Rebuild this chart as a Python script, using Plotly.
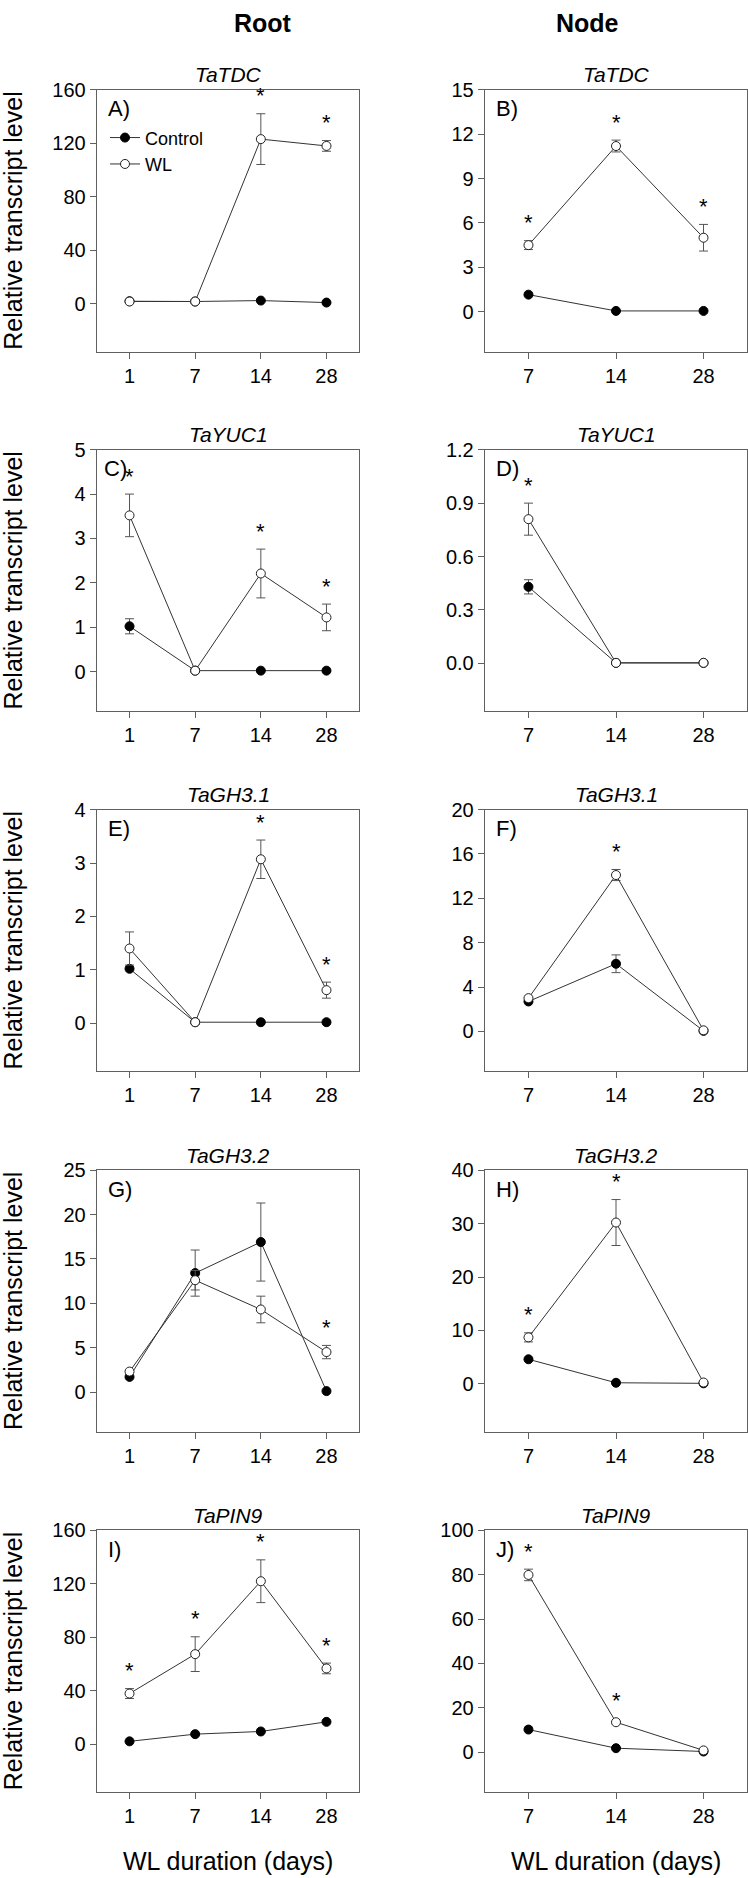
import plotly.graph_objects as go
from plotly.subplots import make_subplots

# ---------------- data ----------------
root_days = ["1", "7", "14", "28"]
node_days = ["7", "14", "28"]
genes = ["TaTDC", "TaYUC1", "TaGH3.1", "TaGH3.2", "TaPIN9"]
letters = ["A)", "B)", "C)", "D)", "E)", "F)", "G)", "H)", "I)", "J)"]

# A) TaTDC root
a_ctrl = [1.7, 1.5, 2.2, 0.7]
a_ctrl_err = [None, None, None, None]
a_wl = [1.5, 1.5, 123.1, 118.0]
a_wl_err = [None, None, 19.0, 4.0]
a_sig = [0, 0, 1, 1]
# B) TaTDC node
b_ctrl = [1.15, 0.05, 0.05]
b_ctrl_err = [None, None, None]
b_wl = [4.5, 11.2, 5.0]
b_wl_err = [0.3, 0.4, 0.9]
b_sig = [1, 1, 1]
# C) TaYUC1 root
c_ctrl = [1.02, 0.02, 0.02, 0.02]
c_ctrl_err = [0.17, None, None, None]
c_wl = [3.52, 0.02, 2.21, 1.22]
c_wl_err = [0.48, None, 0.55, 0.3]
c_sig = [1, 0, 1, 1]
# D) TaYUC1 node
d_ctrl = [0.43, 0.003, 0.003]
d_ctrl_err = [0.04, None, None]
d_wl = [0.81, 0.003, 0.003]
d_wl_err = [0.09, None, None]
d_sig = [1, 0, 0]
# E) TaGH3.1 root
e_ctrl = [1.02, 0.02, 0.02, 0.02]
e_ctrl_err = [None, None, None, None]
e_wl = [1.40, 0.02, 3.07, 0.62]
e_wl_err = [0.31, None, 0.36, 0.15]
e_sig = [0, 0, 1, 1]
# F) TaGH3.1 node
f_ctrl = [2.7, 6.1, 0.05]
f_ctrl_err = [None, 0.8, None]
f_wl = [3.0, 14.1, 0.1]
f_wl_err = [None, 0.5, None]
f_sig = [0, 1, 0]
# G) TaGH3.2 root
g_ctrl = [1.7, 13.4, 16.9, 0.1]
g_ctrl_err = [None, 2.6, 4.4, None]
g_wl = [2.3, 12.6, 9.3, 4.5]
g_wl_err = [None, 1.1, 1.5, 0.75]
g_sig = [0, 0, 0, 1]
# H) TaGH3.2 node
h_ctrl = [4.6, 0.2, 0.1]
h_ctrl_err = [None, None, None]
h_wl = [8.7, 30.2, 0.25]
h_wl_err = [0.85, 4.3, None]
h_sig = [1, 1, 0]
# I) TaPIN9 root
i_ctrl = [2.0, 7.4, 9.4, 16.6]
i_ctrl_err = [None, None, None, None]
i_wl = [37.8, 67.3, 121.9, 56.6]
i_wl_err = [3.7, 13.0, 16.0, 4.0]
i_sig = [1, 1, 1, 1]
# J) TaPIN9 node
j_ctrl = [10.2, 1.8, 0.3]
j_ctrl_err = [None, None, None]
j_wl = [79.9, 13.5, 0.8]
j_wl_err = [2.6, None, None]
j_sig = [1, 1, 0]

# y-axis top tick and tick step per panel
y_top = [160, 15, 5, 1.2, 4, 20, 25, 40, 160, 100]
y_step = [40, 3, 1, 0.3, 1, 4, 5, 10, 40, 20]

panels = [
    (root_days, a_ctrl, a_ctrl_err, a_wl, a_wl_err, a_sig),
    (node_days, b_ctrl, b_ctrl_err, b_wl, b_wl_err, b_sig),
    (root_days, c_ctrl, c_ctrl_err, c_wl, c_wl_err, c_sig),
    (node_days, d_ctrl, d_ctrl_err, d_wl, d_wl_err, d_sig),
    (root_days, e_ctrl, e_ctrl_err, e_wl, e_wl_err, e_sig),
    (node_days, f_ctrl, f_ctrl_err, f_wl, f_wl_err, f_sig),
    (root_days, g_ctrl, g_ctrl_err, g_wl, g_wl_err, g_sig),
    (node_days, h_ctrl, h_ctrl_err, h_wl, h_wl_err, h_sig),
    (root_days, i_ctrl, i_ctrl_err, i_wl, i_wl_err, i_sig),
    (node_days, j_ctrl, j_ctrl_err, j_wl, j_wl_err, j_sig),
]

# ---------------- layout geometry (pixels) ----------------
W, H = 748, 1878
col_px = [(96.7, 359.3), (484.7, 747.3)]
row_top_px = [79.3, 441.3, 803.3, 1166.0, 1528.3]
plot_h = 263.3

FONT = "Liberation Sans, Arial, sans-serif"
LINE = "#333333"
AX = "#606060"

fig = make_subplots(rows=5, cols=2)

for k, (days, ctrl, ctrl_err, wl, wl_err, sig) in enumerate(panels):
    r, c = k // 2 + 1, k % 2 + 1
    n = k + 1
    xs = "" if n == 1 else str(n)
    show = (k == 0)
    fig.add_trace(go.Scatter(
        x=days, y=ctrl, name="Control", mode="lines+markers", showlegend=show,
        line=dict(color=LINE, width=1),
        marker=dict(symbol="circle", size=9, color="black", line=dict(color="black", width=1)),
        error_y=dict(type="data", array=ctrl_err, color="#555555", thickness=1, width=4.5),
    ), row=r, col=c)
    fig.add_trace(go.Scatter(
        x=days, y=wl, name="WL", mode="lines+markers", showlegend=show,
        line=dict(color=LINE, width=1),
        marker=dict(symbol="circle", size=9, color="white", line=dict(color="#222222", width=1)),
        error_y=dict(type="data", array=wl_err, color="#555555", thickness=1, width=4.5),
    ), row=r, col=c)

    x0, x1 = col_px[c - 1]
    top = row_top_px[r - 1]
    fig.update_xaxes(
        domain=[x0 / W, x1 / W], type="category", range=[-0.5, len(days) - 0.5],
        showline=True, mirror=True, linecolor=AX, linewidth=1,
        ticks="outside", ticklen=6, tickcolor=AX, showgrid=False, zeroline=False,
        tickfont=dict(family=FONT, size=20, color="black"),
        row=r, col=c)
    fig.update_yaxes(
        domain=[1 - (top + plot_h) / H, 1 - top / H],
        range=[-0.9 * y_step[k], y_top[k]], tick0=0, dtick=y_step[k],
        tickformat=".1f" if y_step[k] < 1 else "d",
        showline=True, mirror=True, linecolor=AX, linewidth=1,
        ticks="outside", ticklen=6, tickcolor=AX, showgrid=False, zeroline=False,
        tickfont=dict(family=FONT, size=20, color="black"),
        row=r, col=c)

    # panel letter
    fig.add_annotation(
        text=letters[k], xref=f"x{xs} domain", yref=f"y{xs} domain",
        x=(5 if k == 2 else 9) / 262.6, y=1 - 19 / plot_h, xanchor="left", yanchor="middle",
        showarrow=False, font=dict(family=FONT, size=22, color="black"))
    # gene title
    fig.add_annotation(
        text=f"<i>{genes[r - 1]}</i>", xref=f"x{xs} domain", yref=f"y{xs} domain",
        x=0.5, y=1, yanchor="middle", yshift=15, showarrow=False,
        font=dict(family=FONT, size=21, color="black"))
    # significance asterisks (x given as category index)
    for idx, (v, e, s) in enumerate(zip(wl, wl_err, sig)):
        if s:
            fig.add_annotation(
                text="*", xref=f"x{xs}", yref=f"y{xs}", x=idx, y=v + (e or 0),
                yanchor="middle", yshift=18 if e else 22, showarrow=False,
                font=dict(family=FONT, size=22, color="black"))
    # y title on left column
    if c == 1:
        fig.add_annotation(
            text="Relative transcript level", textangle=-90,
            xref="paper", yref=f"y{xs} domain", x=13 / W, y=0.5,
            xanchor="center", yanchor="middle", showarrow=False,
            font=dict(family=FONT, size=25, color="black"))
    # x title on bottom row
    if r == 5:
        fig.add_annotation(
            text="WL duration (days)", xref=f"x{xs} domain", yref="paper",
            x=0.5, y=1 - 1861 / H, yanchor="middle", showarrow=False,
            font=dict(family=FONT, size=25, color="black"))

# column headers
fig.add_annotation(text="<b>Root</b>", xref="paper", yref="paper", x=232 / W, y=1 - 12 / H,
                   yanchor="middle", showarrow=False, font=dict(family=FONT, size=25, color="black"))
fig.add_annotation(text="<b>Node</b>", xref="paper", yref="paper", x=621 / W, y=1 - 12 / H,
                   yanchor="middle", showarrow=False, font=dict(family=FONT, size=25, color="black"))

fig.update_layout(
    width=W, height=H, autosize=False,
    margin=dict(l=0, r=0, t=0, b=0),
    paper_bgcolor="white", plot_bgcolor="white",
    showlegend=True,
    legend=dict(x=105 / W, y=1 - 109 / H, xanchor="left", yanchor="top",
                bgcolor="rgba(0,0,0,0)", font=dict(family=FONT, size=18, color="black"),
                tracegroupgap=0, itemclick=False),
    font=dict(family=FONT),
)

fig.write_html("out.html", config={"displayModeBar": False},
               post_script="document.body.style.margin='0';")
